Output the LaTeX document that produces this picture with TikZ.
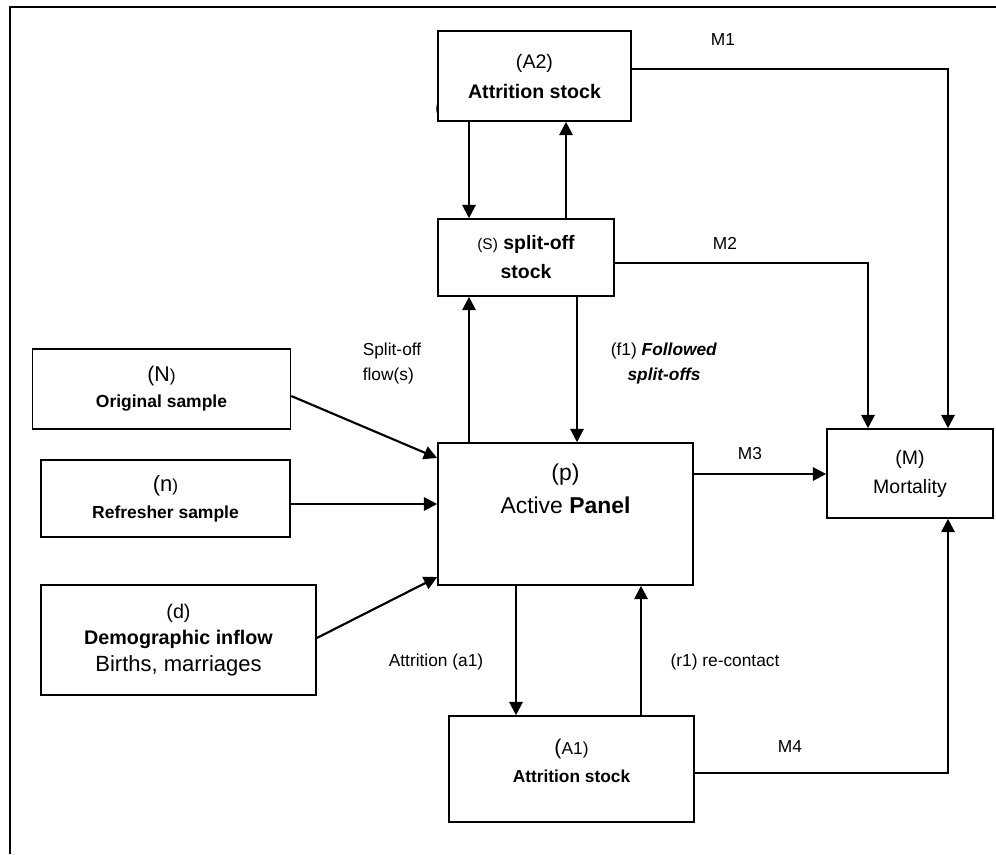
\documentclass[tikz,border=0pt]{standalone}
\usepackage{fontspec}
\setmainfont{Liberation Sans}
\usepackage{tkz-euclide}
\usetikzlibrary{arrows.meta}

\newcommand{\sz}[2]{\fontsize{#1}{#2}\selectfont}

\tikzset{
	stock/.style = {draw, line width = 1.2pt, fill = white, align = center, inner sep = 1pt},
	flow/.style = {line width = 1.6pt, -{Triangle[length = 10pt, width = 10pt]}},
	lab/.style = {font = \sz{13}{18.75}, inner sep = 1pt}
}

\begin{document}
\begin{tikzpicture}[x = 0.75pt, y = -0.75pt]
	    \useasboundingbox (0,0) rectangle (996,854);
	    \draw[line width = 1.5pt] (10,854) -- (10,7) -- (996,7);

	    % guide points for the connectors
	    \tkzDefPoint(948,69){c_1}
	    \tkzDefPoint(868,263){c_2}
	    \tkzDefPoint(760,474){c_3}
	    \tkzDefPoint(948,773){c_4}
	    \tkzDefPoint(469,0){x_1}
	    \tkzDefPoint(566,0){x_2}
	    \tkzDefPoint(577,0){x_3}
	    \tkzDefPoint(516,0){x_4}
	    \tkzDefPoint(641,0){x_5}
	    \tkzDefPoint(0,396){y_1}
	    \tkzDefPoint(0,458){y_2}
	    \tkzDefPoint(0,504){y_3}
	    \tkzDefPoint(0,638){y_4}
	    \tkzDefPoint(0,577){y_5}

	    % stocks
	    \node[lab, font = \sz{15}{18}] (br) at (438.5,109) {(};
	    \node[stock, minimum width = 144.75pt, minimum height = 67.5pt, font = \sz{14.7}{22.5}] (A2) at (534.5,76) {(A2)\\\textbf{Attrition stock}};
	    \node[stock, minimum width = 132pt, minimum height = 57.75pt, font = \sz{14.6}{21.75}] (S) at (526,257.5) {{\sz{11.6}{14}(S)} \textbf{split-off}\\\textbf{stock}};
	    \node[stock, minimum width = 193.5pt, minimum height = 60pt, font = \sz{13.1}{19.5}] (N) at (161.5,389) {{\sz{16}{19.5}(N}{\sz{13}{19.5})}\\\textbf{Original sample}};
	    \node[stock, minimum width = 186.75pt, minimum height = 57.75pt, font = \sz{13.1}{20}] (n) at (165.5,498.5) {{\sz{16.5}{20}(n}{\sz{13}{20})}\\\textbf{Refresher sample}};
	    \node[stock, minimum width = 206.25pt, minimum height = 82.5pt, font = \sz{14.8}{20}] (d) at (178.5,640) {(d)\\\textbf{Demographic inflow}\\{\sz{16.5}{20}Births, marriages}};
	    \node[stock, minimum width = 191.25pt, minimum height = 106.5pt, font = \sz{17.2}{25}] (P) at (565.5,514) {(p)\\Active \textbf{Panel}\\[13pt]\mbox{}};
	    \node[stock, minimum width = 124.5pt, minimum height = 66.75pt, font = \sz{14.6}{21.75}] (M) at (910,473.5) {(M)\\Mortality};
	    \node[stock, minimum width = 183.75pt, minimum height = 79.5pt, font = \sz{13}{21}] (A1) at (571.5,769) {{\sz{16}{21}(}A1)\\\textbf{Attrition stock}\\[-9pt]\mbox{}};

	    % labels
	    \node[lab] (m1) at (723,40) {M1};
	    \node[lab] (m2) at (725,243) {M2};
	    \node[lab] (m3) at (750,454) {M3};
	    \node[lab] (m4) at (790,747) {M4};
	    \node[lab, align = left] (sf) at (392,364) {Split-off\\flow(s)};
	    \node[lab, align = center] (f1) at (664,364) {(f1) \textbf{\textit{Followed}}\\\textbf{\textit{split-offs}}};
	    \node[lab] (a1) at (436,662) {Attrition (a1)};
	    \node[lab] (r1) at (725,662) {(r1) re-contact};

	    % flows
	    \draw[flow] (A2.east |- c_1) -- (c_1) -- (M.north -| c_1);
	    \draw[flow] (S.east |- c_2) -- (c_2) -- (M.north -| c_2);
	    \draw[flow] (P.east |- c_3) -- (M.west |- c_3);
	    \draw[flow] (A1.east |- c_4) -- (c_4) -- (M.south -| c_4);
	    \draw[flow] (A2.south -| x_1) -- (S.north -| x_1);
	    \draw[flow] (S.north -| x_2) -- (A2.south -| x_2);
	    \draw[flow] (P.north -| x_1) -- (S.south -| x_1);
	    \draw[flow] (S.south -| x_3) -- (P.north -| x_3);
	    \draw[flow] (P.south -| x_4) -- (A1.north -| x_4);
	    \draw[flow] (A1.north -| x_5) -- (P.south -| x_5);
	    \draw[flow] (N.east |- y_1) -- (P.west |- y_2);
	    \draw[flow] (n.east |- y_3) -- (P.west |- y_3);
	    \draw[flow] (d.east |- y_4) -- (P.west |- y_5);
	\end{tikzpicture}
\end{document}
